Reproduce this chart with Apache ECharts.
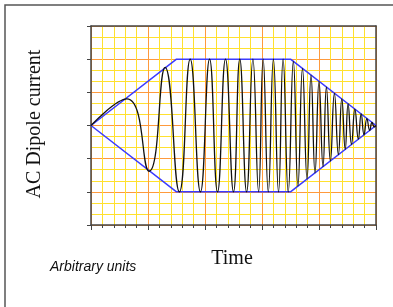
<!DOCTYPE html>
<html>
<head>
<meta charset="utf-8">
<style>
  html, body { margin: 0; padding: 0; background: #fff; }
  #chart { width: 393px; height: 307px; }
</style>
<script src="https://cdn.jsdelivr.net/npm/echarts@6/dist/echarts.min.js"></script>
</head>
<body>
<div id="chart"></div>
<script>
// envelope of the drive (trapezoid)
const envX = [0, 1.5, 3.5, 5];
const envTop = [0, 2, 2, 0];
const envBottom = [0, -2, -2, 0];

// chirp waveform: extrema
const waveX = [0, 0.63, 1.02, 1.30, 1.55, 1.74, 1.92, 2.08, 2.22, 2.36, 2.50, 2.61, 2.73, 2.84, 2.94, 3.02,
  3.11, 3.20, 3.29, 3.37, 3.46, 3.55, 3.63, 3.71, 3.79, 3.86, 3.93, 4.00, 4.07, 4.13, 4.20, 4.27, 4.34,
  4.40, 4.46, 4.51, 4.57, 4.63, 4.69, 4.74, 4.79, 4.84, 4.89, 4.93, 4.97, 5.0];
const waveY = [0, 0.80, -1.38, 1.75, -2, 2, -2, 2, -2, 2, -2, 2, -2, 2, -2, 2,
  -2, 2, -2, 2, -2, 1.93, -1.83, 1.72, -1.61, 1.52, -1.43, 1.33, -1.24, 1.16, -1.07, 0.97, -0.88,
  0.80, -0.72, 0.65, -0.57, 0.49, -0.41, 0.35, -0.28, 0.21, -0.15, 0.09, -0.04, 0];

const zip = (xs, ys) => xs.map((x, i) => [x, ys[i]]);

// plain frame line for top / right edges
const frameAxis = {
  show: true,
  axisLabel: { show: false },
  axisTick: { show: false },
  splitLine: { show: false },
  axisLine: { show: true, onZero: false, lineStyle: { color: "#444", width: 1.5 } }
};

const chart = echarts.init(document.getElementById("chart"));
chart.setOption({
  animation: false,
  grid: {
    left: 91, right: 17, top: 26, bottom: 82,
    show: true, borderWidth: 0, backgroundColor: "#fff"
  },
  xAxis: [
    {
      type: "value", min: 0, max: 5, interval: 1,
      axisLabel: { show: false },
      axisLine: { onZero: false, lineStyle: { color: "#444", width: 1.5 } },
      axisTick: { show: true, length: 5, lineStyle: { color: "#444" } },
      minorTick: { show: true, splitNumber: 5, length: 3, lineStyle: { color: "#444" } },
      splitLine: { show: true, lineStyle: { color: "#ff9a3c", width: 1 } },
      minorSplitLine: { show: true, lineStyle: { color: "#ffe12e", width: 1 } }
    },
    Object.assign({ type: "value", min: 0, max: 5, position: "top" }, frameAxis)
  ],
  yAxis: [
    {
      type: "value", min: -3, max: 3, interval: 1,
      axisLabel: { show: false },
      axisLine: { show: true, onZero: false, lineStyle: { color: "#444", width: 1.5 } },
      axisTick: { show: true, length: 4, lineStyle: { color: "#444" } },
      minorTick: { show: false, splitNumber: 3 },
      splitLine: { show: true, lineStyle: { color: "#ff9a3c", width: 1 } },
      minorSplitLine: { show: true, lineStyle: { color: "#ffe12e", width: 1 } }
    },
    Object.assign({ type: "value", min: -3, max: 3, position: "right" }, frameAxis)
  ],
  series: [
    {
      type: "line", data: zip(envX, envTop), showSymbol: false,
      lineStyle: { color: "#3b3bff", width: 1.5 }
    },
    {
      type: "line", data: zip(envX, envBottom), showSymbol: false,
      lineStyle: { color: "#3b3bff", width: 1.5 }
    },
    {
      type: "line", data: zip(waveX, waveY), showSymbol: false, smooth: 0.5,
      lineStyle: { color: "#111", width: 1.3 }
    }
  ],
  graphic: [
    {
      type: "rect", shape: { x: 5, y: 5, width: 400, height: 320 },
      style: { fill: null, stroke: "#555", lineWidth: 1.5 }, silent: true
    },
    {
      type: "text", x: 35, y: 124, rotation: Math.PI / 2,
      style: {
        text: "AC Dipole current", font: "20px 'Liberation Serif', serif",
        fill: "#111", align: "center", verticalAlign: "middle"
      }
    },
    {
      type: "text", x: 232, y: 259,
      style: {
        text: "Time", font: "20px 'Liberation Serif', serif",
        fill: "#111", align: "center", verticalAlign: "middle"
      }
    },
    {
      type: "text", x: 50, y: 267,
      style: {
        text: "Arbitrary units", font: "italic 14px 'Liberation Sans', Arial, sans-serif",
        fill: "#111", align: "left", verticalAlign: "middle"
      }
    }
  ]
});
</script>
</body>
</html>
